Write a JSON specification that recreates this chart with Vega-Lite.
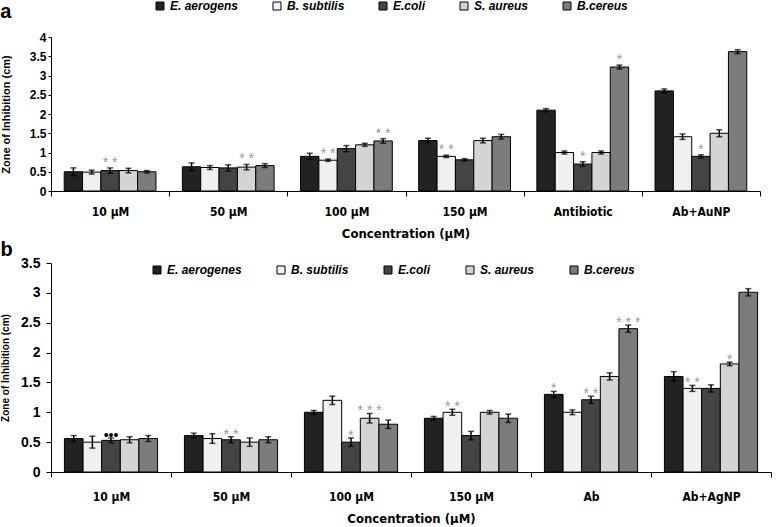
{
  "$schema": "https://vega.github.io/schema/vega-lite/v6.json",
  "padding": 0,
  "background": "white",
  "spacing": 0,
  "config": {
    "view": {"stroke": null},
    "font": "Liberation Sans",
    "axis": {"domainColor": "#000", "tickColor": "#000", "labelColor": "#000", "titleColor": "#000", "grid": false, "domainWidth": 1, "tickWidth": 1, "labelOverlap": false}
  },
  "resolve": {"scale": {"color": "independent", "x": "independent", "y": "independent", "xOffset": "independent"}},
  "datasets": {
    "a": [
      {"conc": "10 µM", "strain": "E. aerogens", "value": 0.5, "lo": 0.4, "hi": 0.6, "sig": ""},
      {"conc": "10 µM", "strain": "B. subtilis", "value": 0.49, "lo": 0.44, "hi": 0.54, "sig": ""},
      {"conc": "10 µM", "strain": "E.coli", "value": 0.53, "lo": 0.46, "hi": 0.6, "sig": "* *"},
      {"conc": "10 µM", "strain": "S. aureus", "value": 0.53, "lo": 0.47, "hi": 0.59, "sig": ""},
      {"conc": "10 µM", "strain": "B.cereus", "value": 0.5, "lo": 0.47, "hi": 0.53, "sig": ""},
      {"conc": "50 µM", "strain": "E. aerogens", "value": 0.63, "lo": 0.53, "hi": 0.73, "sig": ""},
      {"conc": "50 µM", "strain": "B. subtilis", "value": 0.61, "lo": 0.56, "hi": 0.66, "sig": ""},
      {"conc": "50 µM", "strain": "E.coli", "value": 0.6, "lo": 0.52, "hi": 0.68, "sig": ""},
      {"conc": "50 µM", "strain": "S. aureus", "value": 0.62, "lo": 0.55, "hi": 0.69, "sig": "* *"},
      {"conc": "50 µM", "strain": "B.cereus", "value": 0.66, "lo": 0.61, "hi": 0.71, "sig": ""},
      {"conc": "100 µM", "strain": "E. aerogens", "value": 0.9, "lo": 0.82, "hi": 0.98, "sig": ""},
      {"conc": "100 µM", "strain": "B. subtilis", "value": 0.8, "lo": 0.77, "hi": 0.83, "sig": "* *"},
      {"conc": "100 µM", "strain": "E.coli", "value": 1.1, "lo": 1.02, "hi": 1.18, "sig": ""},
      {"conc": "100 µM", "strain": "S. aureus", "value": 1.2, "lo": 1.16, "hi": 1.24, "sig": ""},
      {"conc": "100 µM", "strain": "B.cereus", "value": 1.3, "lo": 1.24, "hi": 1.36, "sig": "* *"},
      {"conc": "150 µM", "strain": "E. aerogens", "value": 1.31, "lo": 1.25, "hi": 1.37, "sig": ""},
      {"conc": "150 µM", "strain": "B. subtilis", "value": 0.9, "lo": 0.87, "hi": 0.93, "sig": "* *"},
      {"conc": "150 µM", "strain": "E.coli", "value": 0.81, "lo": 0.78, "hi": 0.84, "sig": ""},
      {"conc": "150 µM", "strain": "S. aureus", "value": 1.31, "lo": 1.25, "hi": 1.37, "sig": ""},
      {"conc": "150 µM", "strain": "B.cereus", "value": 1.41, "lo": 1.35, "hi": 1.47, "sig": ""},
      {"conc": "Antibiotic", "strain": "E. aerogens", "value": 2.1, "lo": 2.06, "hi": 2.14, "sig": ""},
      {"conc": "Antibiotic", "strain": "B. subtilis", "value": 1.0, "lo": 0.96, "hi": 1.04, "sig": ""},
      {"conc": "Antibiotic", "strain": "E.coli", "value": 0.7, "lo": 0.64, "hi": 0.76, "sig": "*"},
      {"conc": "Antibiotic", "strain": "S. aureus", "value": 1.0, "lo": 0.96, "hi": 1.04, "sig": ""},
      {"conc": "Antibiotic", "strain": "B.cereus", "value": 3.22, "lo": 3.17, "hi": 3.27, "sig": "*"},
      {"conc": "Ab+AuNP", "strain": "E. aerogens", "value": 2.6, "lo": 2.55, "hi": 2.65, "sig": ""},
      {"conc": "Ab+AuNP", "strain": "B. subtilis", "value": 1.41, "lo": 1.34, "hi": 1.48, "sig": ""},
      {"conc": "Ab+AuNP", "strain": "E.coli", "value": 0.9, "lo": 0.86, "hi": 0.94, "sig": "*"},
      {"conc": "Ab+AuNP", "strain": "S. aureus", "value": 1.5, "lo": 1.41, "hi": 1.59, "sig": ""},
      {"conc": "Ab+AuNP", "strain": "B.cereus", "value": 3.62, "lo": 3.57, "hi": 3.67, "sig": ""}
    ],
    "b": [
      {"conc": "10 µM", "strain": "E. aerogenes", "value": 0.56, "lo": 0.51, "hi": 0.61, "sig": ""},
      {"conc": "10 µM", "strain": "B. subtilis", "value": 0.5, "lo": 0.4, "hi": 0.6, "sig": ""},
      {"conc": "10 µM", "strain": "E.coli", "value": 0.53, "lo": 0.49, "hi": 0.57, "sig": "•••"},
      {"conc": "10 µM", "strain": "S. aureus", "value": 0.54, "lo": 0.49, "hi": 0.59, "sig": ""},
      {"conc": "10 µM", "strain": "B.cereus", "value": 0.56, "lo": 0.51, "hi": 0.61, "sig": ""},
      {"conc": "50 µM", "strain": "E. aerogenes", "value": 0.61, "lo": 0.57, "hi": 0.65, "sig": ""},
      {"conc": "50 µM", "strain": "B. subtilis", "value": 0.56, "lo": 0.48, "hi": 0.64, "sig": ""},
      {"conc": "50 µM", "strain": "E.coli", "value": 0.54, "lo": 0.49, "hi": 0.59, "sig": "* *"},
      {"conc": "50 µM", "strain": "S. aureus", "value": 0.5, "lo": 0.43, "hi": 0.57, "sig": ""},
      {"conc": "50 µM", "strain": "B.cereus", "value": 0.54, "lo": 0.49, "hi": 0.59, "sig": ""},
      {"conc": "100 µM", "strain": "E. aerogenes", "value": 1.0, "lo": 0.97, "hi": 1.03, "sig": ""},
      {"conc": "100 µM", "strain": "B. subtilis", "value": 1.2, "lo": 1.13, "hi": 1.27, "sig": ""},
      {"conc": "100 µM", "strain": "E.coli", "value": 0.5, "lo": 0.43, "hi": 0.57, "sig": "*"},
      {"conc": "100 µM", "strain": "S. aureus", "value": 0.9, "lo": 0.82, "hi": 0.98, "sig": "* * *"},
      {"conc": "100 µM", "strain": "B.cereus", "value": 0.8, "lo": 0.73, "hi": 0.87, "sig": ""},
      {"conc": "150 µM", "strain": "E. aerogenes", "value": 0.9, "lo": 0.87, "hi": 0.93, "sig": ""},
      {"conc": "150 µM", "strain": "B. subtilis", "value": 1.0, "lo": 0.95, "hi": 1.05, "sig": "* *"},
      {"conc": "150 µM", "strain": "E.coli", "value": 0.61, "lo": 0.54, "hi": 0.68, "sig": ""},
      {"conc": "150 µM", "strain": "S. aureus", "value": 1.0, "lo": 0.97, "hi": 1.03, "sig": ""},
      {"conc": "150 µM", "strain": "B.cereus", "value": 0.9, "lo": 0.83, "hi": 0.97, "sig": ""},
      {"conc": "Ab", "strain": "E. aerogenes", "value": 1.3, "lo": 1.25, "hi": 1.35, "sig": "*"},
      {"conc": "Ab", "strain": "B. subtilis", "value": 1.0, "lo": 0.96, "hi": 1.04, "sig": ""},
      {"conc": "Ab", "strain": "E.coli", "value": 1.21, "lo": 1.15, "hi": 1.27, "sig": "* *"},
      {"conc": "Ab", "strain": "S. aureus", "value": 1.6, "lo": 1.54, "hi": 1.66, "sig": ""},
      {"conc": "Ab", "strain": "B.cereus", "value": 2.4, "lo": 2.34, "hi": 2.46, "sig": "* * *"},
      {"conc": "Ab+AgNP", "strain": "E. aerogenes", "value": 1.6, "lo": 1.52, "hi": 1.68, "sig": ""},
      {"conc": "Ab+AgNP", "strain": "B. subtilis", "value": 1.4, "lo": 1.35, "hi": 1.45, "sig": "* *"},
      {"conc": "Ab+AgNP", "strain": "E.coli", "value": 1.4, "lo": 1.34, "hi": 1.46, "sig": ""},
      {"conc": "Ab+AgNP", "strain": "S. aureus", "value": 1.81, "lo": 1.78, "hi": 1.84, "sig": "*"},
      {"conc": "Ab+AgNP", "strain": "B.cereus", "value": 3.01, "lo": 2.95, "hi": 3.07, "sig": ""}
    ]
  },
  "vconcat": [
    {
      "width": 709,
      "height": 154,
      "data": {"name": "a"},
      "title": {"text": "a", "anchor": "start", "frame": "bounds", "fontSize": 20, "fontWeight": "bold", "offset": -22, "color": "#000", "font": "Liberation Sans"},
      "encoding": {
        "x": {
          "field": "conc", "type": "nominal", "sort": null,
          "scale": {"paddingInner": 0, "paddingOuter": 0},
          "axis": {"title": "Concentration (µM)", "labelAngle": 0, "tickBand": "extent", "tickSize": 5, "labelPadding": 10,
                   "labelFont": "DejaVu Sans Condensed, Liberation Sans", "labelFontSize": 12, "labelFontWeight": "bold",
                   "titleFont": "DejaVu Sans Condensed, Liberation Sans", "titleFontSize": 13, "titleFontWeight": "bold", "titlePadding": 10}
        },
        "xOffset": {"field": "strain", "type": "nominal", "sort": null, "scale": {"paddingInner": 0, "paddingOuter": 0.72}}
      },
      "layer": [
        {
          "mark": {"type": "bar", "stroke": "#000", "strokeWidth": 1},
          "encoding": {
            "y": {"field": "value", "type": "quantitative", "scale": {"domain": [0, 4]},
                  "axis": {"title": "Zone of Inhibition (cm)", "values": [0, 0.5, 1, 1.5, 2, 2.5, 3, 3.5, 4], "format": "~g",
                           "tickSize": 3, "labelPadding": 2, "labelFontSize": 12, "labelFontWeight": "bold",
                           "titleFontSize": 11, "titleFontWeight": "bold", "titlePadding": 18}},
            "color": {
              "field": "strain", "type": "nominal", "sort": null,
              "scale": {"domain": ["E. aerogens", "B. subtilis", "E.coli", "S. aureus", "B.cereus"],
                        "range": ["#222222", "#f0f0f0", "#444444", "#d4d4d4", "#7c7c7c"]},
              "legend": {"orient": "none", "legendX": 103, "legendY": -37, "direction": "horizontal", "title": null,
                         "symbolType": "square", "symbolSize": 64, "symbolStrokeColor": "#000", "symbolStrokeWidth": 1,
                         "labelFont": "Liberation Sans", "labelFontSize": 12, "labelFontStyle": "italic", "labelFontWeight": "bold",
                         "labelColor": "#000", "columnPadding": 32, "labelOffset": 4, "padding": 0}
            }
          }
        },
        {
          "mark": {"type": "rule", "strokeWidth": 1.5, "color": "#000"},
          "encoding": {"y": {"field": "lo", "type": "quantitative",
                  "axis": {"title": "Zone of Inhibition (cm)", "values": [0, 0.5, 1, 1.5, 2, 2.5, 3, 3.5, 4], "format": "~g",
                           "tickSize": 3, "labelPadding": 2, "labelFontSize": 12, "labelFontWeight": "bold",
                           "titleFontSize": 11, "titleFontWeight": "bold", "titlePadding": 18}}, "y2": {"field": "hi"}}
        },
        {
          "mark": {"type": "tick", "orient": "horizontal", "size": 6, "thickness": 1.5, "color": "#000"},
          "encoding": {"y": {"field": "lo", "type": "quantitative",
                  "axis": {"title": "Zone of Inhibition (cm)", "values": [0, 0.5, 1, 1.5, 2, 2.5, 3, 3.5, 4], "format": "~g",
                           "tickSize": 3, "labelPadding": 2, "labelFontSize": 12, "labelFontWeight": "bold",
                           "titleFontSize": 11, "titleFontWeight": "bold", "titlePadding": 18}}}
        },
        {
          "mark": {"type": "tick", "orient": "horizontal", "size": 6, "thickness": 1.5, "color": "#000"},
          "encoding": {"y": {"field": "hi", "type": "quantitative",
                  "axis": {"title": "Zone of Inhibition (cm)", "values": [0, 0.5, 1, 1.5, 2, 2.5, 3, 3.5, 4], "format": "~g",
                           "tickSize": 3, "labelPadding": 2, "labelFontSize": 12, "labelFontWeight": "bold",
                           "titleFontSize": 11, "titleFontWeight": "bold", "titlePadding": 18}}}
        },
        {
          "transform": [{"filter": "datum.sig != ''"}],
          "mark": {"type": "text", "fontSize": 14, "baseline": "alphabetic", "dy": -1, "font": "Liberation Sans"},
          "encoding": {
            "y": {"field": "hi", "type": "quantitative",
                  "axis": {"title": "Zone of Inhibition (cm)", "values": [0, 0.5, 1, 1.5, 2, 2.5, 3, 3.5, 4], "format": "~g",
                           "tickSize": 3, "labelPadding": 2, "labelFontSize": 12, "labelFontWeight": "bold",
                           "titleFontSize": 11, "titleFontWeight": "bold", "titlePadding": 18}},
            "text": {"field": "sig"},
            "color": {"value": "#999999"}
          }
        }
      ]
    },
    {
      "width": 720,
      "height": 209,
      "data": {"name": "b"},
      "title": {"text": "b", "anchor": "start", "frame": "bounds", "fontSize": 20, "fontWeight": "bold", "offset": -4, "color": "#000", "font": "Liberation Sans"},
      "encoding": {
        "x": {
          "field": "conc", "type": "nominal", "sort": null,
          "scale": {"paddingInner": 0, "paddingOuter": 0},
          "axis": {"title": "Concentration (µM)", "labelAngle": 0, "tickBand": "extent", "tickSize": 5, "labelPadding": 14,
                   "labelFont": "DejaVu Sans Condensed, Liberation Sans", "labelFontSize": 12, "labelFontWeight": "bold",
                   "titleFont": "DejaVu Sans Condensed, Liberation Sans", "titleFontSize": 13, "titleFontWeight": "bold", "titlePadding": 10}
        },
        "xOffset": {"field": "strain", "type": "nominal", "sort": null, "scale": {"paddingInner": 0, "paddingOuter": 0.72}}
      },
      "layer": [
        {
          "mark": {"type": "bar", "stroke": "#000", "strokeWidth": 1},
          "encoding": {
            "y": {"field": "value", "type": "quantitative", "scale": {"domain": [0, 3.5]},
                  "axis": {"title": "Zone of Inhibition (cm)", "values": [0, 0.5, 1, 1.5, 2, 2.5, 3, 3.5], "format": "~g",
                           "tickSize": 5, "labelPadding": 6, "labelFontSize": 14, "labelFontWeight": "bold",
                           "titleFontSize": 10, "titleFontWeight": "bold", "titlePadding": 10}},
            "color": {
              "field": "strain", "type": "nominal", "sort": null,
              "scale": {"domain": ["E. aerogenes", "B. subtilis", "E.coli", "S. aureus", "B.cereus"],
                        "range": ["#222222", "#f0f0f0", "#444444", "#d4d4d4", "#7c7c7c"]},
              "legend": {"orient": "none", "legendX": 100, "legendY": 1, "direction": "horizontal", "title": null,
                         "symbolType": "square", "symbolSize": 64, "symbolStrokeColor": "#000", "symbolStrokeWidth": 1,
                         "labelFont": "Liberation Sans", "labelFontSize": 12, "labelFontStyle": "italic", "labelFontWeight": "bold",
                         "labelColor": "#000", "columnPadding": 33, "labelOffset": 4, "padding": 0}
            }
          }
        },
        {
          "mark": {"type": "rule", "strokeWidth": 1.5, "color": "#000"},
          "encoding": {"y": {"field": "lo", "type": "quantitative",
                  "axis": {"title": "Zone of Inhibition (cm)", "values": [0, 0.5, 1, 1.5, 2, 2.5, 3, 3.5], "format": "~g",
                           "tickSize": 5, "labelPadding": 6, "labelFontSize": 14, "labelFontWeight": "bold",
                           "titleFontSize": 10, "titleFontWeight": "bold", "titlePadding": 10}}, "y2": {"field": "hi"}}
        },
        {
          "mark": {"type": "tick", "orient": "horizontal", "size": 6, "thickness": 1.5, "color": "#000"},
          "encoding": {"y": {"field": "lo", "type": "quantitative",
                  "axis": {"title": "Zone of Inhibition (cm)", "values": [0, 0.5, 1, 1.5, 2, 2.5, 3, 3.5], "format": "~g",
                           "tickSize": 5, "labelPadding": 6, "labelFontSize": 14, "labelFontWeight": "bold",
                           "titleFontSize": 10, "titleFontWeight": "bold", "titlePadding": 10}}}
        },
        {
          "mark": {"type": "tick", "orient": "horizontal", "size": 6, "thickness": 1.5, "color": "#000"},
          "encoding": {"y": {"field": "hi", "type": "quantitative",
                  "axis": {"title": "Zone of Inhibition (cm)", "values": [0, 0.5, 1, 1.5, 2, 2.5, 3, 3.5], "format": "~g",
                           "tickSize": 5, "labelPadding": 6, "labelFontSize": 14, "labelFontWeight": "bold",
                           "titleFontSize": 10, "titleFontWeight": "bold", "titlePadding": 10}}}
        },
        {
          "transform": [{"filter": "datum.sig != ''"}],
          "mark": {"type": "text", "fontSize": 14, "baseline": "alphabetic", "dy": 2, "font": "Liberation Sans"},
          "encoding": {
            "y": {"field": "hi", "type": "quantitative",
                  "axis": {"title": "Zone of Inhibition (cm)", "values": [0, 0.5, 1, 1.5, 2, 2.5, 3, 3.5], "format": "~g",
                           "tickSize": 5, "labelPadding": 6, "labelFontSize": 14, "labelFontWeight": "bold",
                           "titleFontSize": 10, "titleFontWeight": "bold", "titlePadding": 10}},
            "text": {"field": "sig"},
            "color": {"condition": {"test": "datum.sig === '•••'", "value": "#000000"}, "value": "#999999"}
          }
        }
      ]
    }
  ]
}
